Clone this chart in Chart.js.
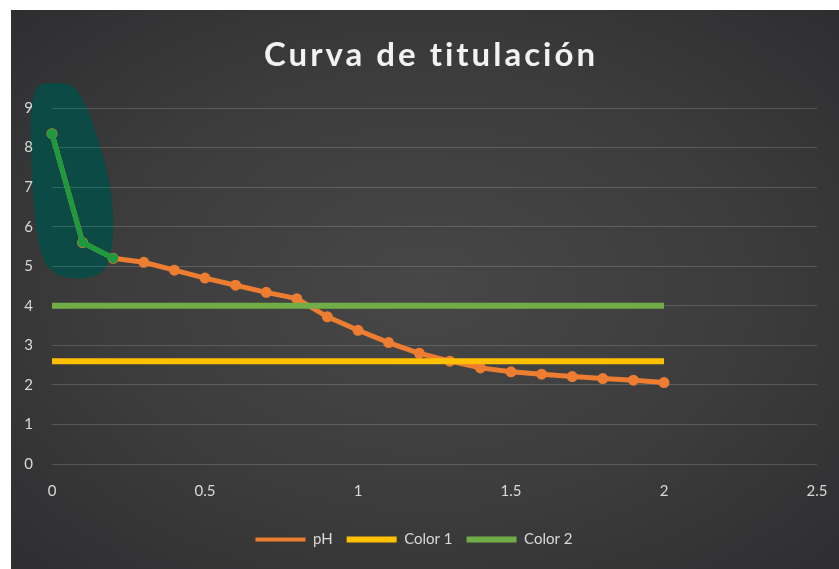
<!DOCTYPE html>
<html>
<head>
<meta charset="utf-8">
<script src="https://cdn.jsdelivr.net/npm/chart.js@4/dist/chart.umd.min.js"></script>
<style>
  html, body { margin: 0; padding: 0; background: #fff; }
  #wrap {
    position: absolute; left: 11px; top: 10px; width: 828px; height: 559px;
    background: radial-gradient(ellipse at 50% 50%, #474747 0%, #3c3c3c 55%, #2e2e31 100%);
  }
</style>
</head>
<body>
<div id="wrap"><canvas id="myChart"></canvas></div>
<script>
const titleText = "Curva de titulación";

// volumen (x) y pH
const volume = [0, 0.1, 0.2, 0.3, 0.4, 0.5, 0.6, 0.7, 0.8, 0.9, 1.0,
                1.1, 1.2, 1.3, 1.4, 1.5, 1.6, 1.7, 1.8, 1.9, 2.0];
const pH = [8.35, 5.6, 5.2, 5.1, 4.9, 4.7, 4.52, 4.34, 4.18, 3.72, 3.38,
            3.07, 2.8, 2.6, 2.43, 2.33, 2.27, 2.21, 2.16, 2.12, 2.06];

const color1X = [0, 2];
const color1Y = [2.6, 2.6];
const color2X = [0, 2];
const color2Y = [4.0, 4.0];

// tramo resaltado a mano (primeros tres puntos)
const markX = [0, 0.1, 0.2];
const markY = [8.35, 5.6, 5.2];

// contorno de la mancha verde, en unidades de datos
const blobX = [-0.07, 0.02, 0.085, 0.15, 0.2, 0.2, 0.16, 0.016, -0.045, -0.07];
const blobY = [9.6, 9.65, 9.55, 8.3, 6.8, 5.4, 4.7, 4.68, 5.3, 7.5];

const toPts = (xs, ys) => xs.map((x, i) => ({ x: x, y: ys[i] }));

const blobPlugin = {
  id: "blob",
  beforeDraw: (chart) => {
    const { ctx, scales: { x, y } } = chart;
    const pts = blobX.map((v, i) => [x.getPixelForValue(v), y.getPixelForValue(blobY[i])]);
    ctx.save();
    ctx.fillStyle = "#0b4a45";
    ctx.beginPath();
    const n = pts.length;
    const mid = (a, b) => [(a[0] + b[0]) / 2, (a[1] + b[1]) / 2];
    const m = mid(pts[n - 1], pts[0]);
    ctx.moveTo(m[0], m[1]);
    for (let i = 0; i < n; i++) {
      const p = pts[i];
      const q = mid(p, pts[(i + 1) % n]);
      ctx.quadraticCurveTo(p[0], p[1], q[0], q[1]);
    }
    ctx.closePath();
    ctx.fill();
    ctx.restore();
  },
};

const titlePlugin = {
  id: "curveTitle",
  afterDraw: (chart) => {
    const ctx = chart.ctx;
    ctx.save();
    ctx.font = "bold 33px Lato";
    ctx.letterSpacing = "3px";
    ctx.fillStyle = "#f2f2f2";
    ctx.textAlign = "center";
    ctx.textBaseline = "middle";
    ctx.fillText(titleText, chart.width / 2 + 6, 45);
    ctx.restore();
  },
};

const data = {
  datasets: [
    {
      label: "pH",
      data: toPts(volume, pH),
      borderColor: "#ED7D31",
      backgroundColor: "#ED7D31",
      borderWidth: 5,
      pointRadius: 3.5,
      pointBorderWidth: 4,
      pointBorderColor: "#ED7D31",
      showLine: true,
      clip: false,
      order: 3,
    },
    {
      label: "Color 1",
      data: toPts(color1X, color1Y),
      borderColor: "#FFC000",
      backgroundColor: "#FFC000",
      borderWidth: 6,
      pointRadius: 0,
      showLine: true,
      clip: false,
      order: 2,
    },
    {
      label: "Color 2",
      data: toPts(color2X, color2Y),
      borderColor: "#70AD47",
      backgroundColor: "#70AD47",
      borderWidth: 6,
      pointRadius: 0,
      showLine: true,
      clip: false,
      order: 1,
    },
    {
      label: "marca",
      data: toPts(markX, markY),
      borderColor: "#1d9a3e",
      backgroundColor: "#1d9a3e",
      borderWidth: 5,
      pointRadius: 5,
      pointBorderWidth: 0,
      showLine: true,
      clip: false,
      order: 0,
    },
  ],
};

const tickFont = { family: "Lato", size: 15 };

const config = {
  type: "scatter",
  data,
  options: {
    responsive: true,
    maintainAspectRatio: false,
    animation: false,
    layout: { padding: { top: 98, left: 0, right: 22, bottom: 12 } },
    plugins: {
      tooltip: { enabled: false },
      legend: {
        position: "bottom",
        labels: {
          color: "#d9d9d9",
          font: { family: "Lato", size: 15 },
          usePointStyle: true,
          pointStyle: "line",
          pointStyleWidth: 50,
          boxHeight: 6,
          padding: 14,
          filter: (item) => item.text !== "marca",
          sort: (a, b) => a.datasetIndex - b.datasetIndex,
        },
      },
    },
    scales: {
      x: {
        type: "linear",
        min: 0,
        max: 2.5,
        ticks: {
          stepSize: 0.5,
          color: "#d9d9d9",
          font: tickFont,
          padding: 18,
          callback: (v) => String(Number(v.toFixed(1))),
        },
        grid: { display: false, drawTicks: false },
        border: { display: false },
        afterFit: (scale) => {
          scale.height = 54;
          scale.paddingRight = 0;
          scale.paddingLeft = 0;
        },
      },
      y: {
        min: 0,
        max: 9,
        ticks: { stepSize: 1, color: "#d9d9d9", font: tickFont, padding: 19 },
        grid: { color: "rgba(255, 255, 255, 0.16)", lineWidth: 1, drawTicks: false },
        border: { display: false },
        afterFit: (scale) => { scale.width = 41; },
      },
    },
  },
  plugins: [blobPlugin, titlePlugin],
};

const myChart = new Chart(document.getElementById("myChart"), config);
</script>
</body>
</html>
